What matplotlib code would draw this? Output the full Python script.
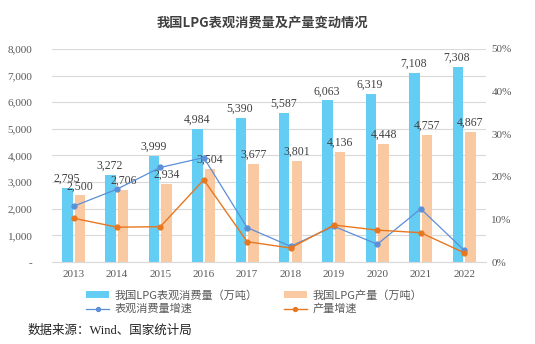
import matplotlib
matplotlib.use("Agg")
import matplotlib.pyplot as plt
import numpy as np
from matplotlib.ticker import FuncFormatter, MultipleLocator

years = ["2013", "2014", "2015", "2016", "2017", "2018", "2019", "2020", "2021", "2022"]
consumption = [2795, 3272, 3999, 4984, 5390, 5587, 6063, 6319, 7108, 7308]
production = [2500, 2706, 2934, 3504, 3677, 3801, 4136, 4448, 4757, 4867]
cons_growth = [13.1, 17.1, 22.2, 24.5, 8.1, 3.7, 8.4, 4.2, 12.5, 2.8]
prod_growth = [10.3, 8.2, 8.3, 19.3, 4.8, 3.3, 8.7, 7.5, 6.9, 2.2]

title = "我国LPG表观消费量及产量变动情况"
labels = ["我国LPG表观消费量（万吨）", "我国LPG产量（万吨）", "表观消费量增速", "产量增速"]
source = "数据来源：Wind、国家统计局"

blue_bar = "#63CDF3"
orange_bar = "#F9C9A2"
blue_line = "#5B8FD8"
orange_line = "#E8771F"
gray = "#595959"

serif = ["Liberation Serif", "Noto Sans CJK SC"]
cjk = ["Noto Sans CJK SC", "DejaVu Sans"]

fig = plt.figure(figsize=(5.35, 3.44), dpi=100)
ax = fig.add_axes([0.097, 0.238, 0.811, 0.62])
ax2 = ax.twinx()

x = np.arange(len(years))
w = 0.24
off = 0.145
b1 = ax.bar(x - off, consumption, w, color=blue_bar, label=labels[0], zorder=2)
b2 = ax.bar(x + off, production, w, color=orange_bar, label=labels[1], zorder=2)

for xi, v in zip(x, consumption):
    ax.text(xi - off - 0.02, v + 120, f"{v:,}", ha="center", va="bottom", fontsize=8.5,
            family=serif, color="#404040", zorder=5)
for xi, v in zip(x, production):
    ax.text(xi + off, v + 120, f"{v:,}", ha="center", va="bottom", fontsize=8.5,
            family=serif, color="#404040", zorder=5)

l1, = ax2.plot(x, cons_growth, color=blue_line, lw=0.9, marker="o", ms=3.5, label=labels[2])
l2, = ax2.plot(x, prod_growth, color=orange_line, lw=1.0, marker="o", ms=3.5, label=labels[3])

ax.set_xlim(-0.5, len(years) - 0.5)
ax.set_ylim(0, 8000)
ax2.set_ylim(0, 50)
ax.yaxis.set_major_locator(MultipleLocator(1000))
ax2.yaxis.set_major_locator(MultipleLocator(10))
ax.yaxis.set_major_formatter(FuncFormatter(lambda v, p: "-" if v == 0 else f"{int(v):,}"))
ax2.yaxis.set_major_formatter(FuncFormatter(lambda v, p: f"{int(v)}%"))
ax.set_xticks(x)
ax.set_xticklabels(years)

ax.grid(axis="y", color="#D9D9D9", lw=0.8, zorder=0)
ax.set_axisbelow(True)
for a in (ax, ax2):
    for s in a.spines.values():
        s.set_visible(False)
    a.tick_params(length=0, labelsize=8, labelcolor=gray)
    for t in a.get_yticklabels() + a.get_xticklabels():
        t.set_family(serif)
ax.spines["bottom"].set_visible(True)
ax.spines["bottom"].set_color("#D9D9D9")
ax.tick_params(axis="y", pad=14)
ax.tick_params(axis="x", pad=6)
ax2.tick_params(axis="y", pad=4)

fig.text(0.49, 0.935, title, ha="center", va="center", fontsize=9.5, fontweight="bold",
         family=cjk, color="#404040")

leg = fig.legend([b1, l1, b2, l2], [labels[0], labels[2], labels[1], labels[3]],
                 loc="center", bbox_to_anchor=(0.475, 0.122),
                 ncol=2, frameon=False, prop={"family": cjk, "size": 8},
                 handlelength=2.1, handleheight=0.5, columnspacing=2.3, handletextpad=0.5,
                 labelspacing=0.3, labelcolor=gray, markerscale=0.8)
fig.text(0.052, 0.038, source, ha="left", va="center", fontsize=9,
         family=serif, color="#222222")

fig.savefig("out.png", dpi=100)
